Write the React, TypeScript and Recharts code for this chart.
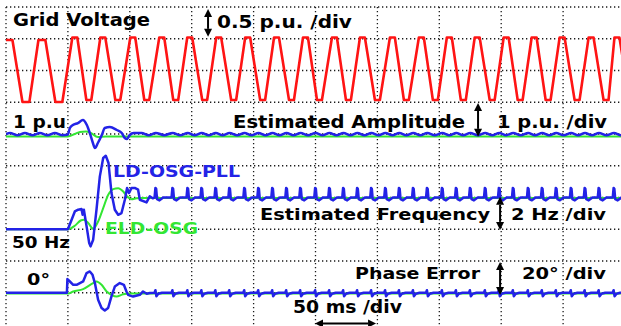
import React from 'react';
import { LineChart, Line, XAxis, YAxis, CartesianGrid, ReferenceDot, ReferenceLine } from 'recharts';

// ---- time base: ms, 50 ms / div, 10 divs ----
const STEP_MS = 50;
const xTicks = [0, 50, 100, 150, 200, 250, 300, 350, 400, 450, 500];
const yTicks = [0, 1, 2, 3, 4, 5, 6, 7, 8, 9, 10];

// ---- grid voltage (p.u.), extremum instants ----
const voltPeakMs = [2.4, 29.0, 55.6, 78.2, 102.4, 125.8, 148.4, 171.8, 195.2, 218.5, 241.9, 265.3, 287.9, 312.1, 335.5, 358.1, 380.6, 404.0, 426.6, 449.2, 472.6, 493.5];
const voltTroughMs = [16.1, 42.7, 66.9, 90.3, 113.7, 137.1, 160.5, 183.9, 207.3, 230.6, 253.2, 276.6, 300.0, 323.4, 346.8, 369.4, 392.7, 415.3, 437.9, 461.3, 484.7, 505.6];
const voltLevelsPre = { high: 0.96, low: -0.99, flat: 2.8 };
const voltLevelsPost = { high: 1.04, low: -0.93, flat: 2.0 };

// ---- double-frequency ripple / spike instants (ms) ----
const rippleMs = [121.0, 134.7, 146.8, 158.1, 169.4, 180.6, 192.7, 204.0, 215.3, 226.6, 237.9, 250.0, 261.3, 272.6, 283.9, 295.2, 306.5, 317.7, 329.0, 340.3, 352.4, 363.7, 375.0, 387.1, 398.4, 409.7, 421.8, 433.1, 444.4, 456.5, 467.7, 479.0, 491.1, 502.4];
const ampPreCrestMs = [3.2, 15.3, 27.4, 39.5];

// ---- estimated amplitude (p.u.) ----
const ampBlueTransient: [number, number][] = [[50.0, 0.984], [51.6, 1.189], [54.0, 1.283], [58.1, 1.346], [62.1, 1.441], [65.3, 1.283], [67.7, 1.031], [70.2, 0.717], [71.8, 0.559], [74.2, 0.717], [77.4, 0.969], [79.8, 1.189], [83.9, 1.220], [89.5, 1.126], [93.5, 1.031], [96.0, 0.874], [97.6, 0.843], [100.0, 0.969], [103.2, 1.031], [109.5, 1.035]];
const ampBlueCrest = 1.035;
const ampBlueValley = 0.963;
const ampGreen: [number, number][] = [[0, 0.925], [50, 0.925], [55.6, 1.0], [59.7, 1.063], [64.5, 1.079], [68.5, 1.031], [74.2, 0.906], [80.6, 0.925], [500, 0.925]];

// ---- estimated frequency (Hz) ----
const freqBlueTransient: [number, number][] = [[0, 50.0], [50.0, 50.0], [53.0, 50.60], [55.6, 51.12], [58.3, 51.23], [61.0, 51.27], [61.9, 50.91], [62.9, 51.23], [65.1, 50.18], [67.2, 49.13], [68.3, 48.92], [70.4, 49.34], [73.1, 51.23], [75.8, 53.33], [78.5, 54.49], [80.6, 54.63], [82.8, 54.17], [85.2, 52.28], [87.9, 51.23], [90.6, 50.91], [93.3, 51.02], [96.0, 51.86], [97.8, 52.60], [99.4, 52.28], [101.4, 52.60], [104.0, 52.60], [106.7, 52.49], [108.1, 51.86], [113.5, 51.69], [116.1, 52.07], [118.5, 51.95]];
const freqSteady = 52.0;
const freqSpike: [number, number][] = [[-1.0, 0], [-0.3, 0.6], [0.3, 0.55], [1.0, -0.1], [3.0, -0.18], [6.0, 0]];
const freqGreen: [number, number][] = [[0, 50.0], [50.0, 50.0], [55.6, 50.22], [60.3, 50.55], [62.9, 50.60], [66.4, 50.39], [70.4, 50.03], [74.4, 50.49], [78.5, 51.33], [82.6, 52.17], [86.6, 52.53], [90.6, 52.59], [94.7, 52.38], [97.9, 52.06], [101.4, 51.89], [105.4, 51.95], [109.7, 51.97], [500, 51.97]];

// ---- phase error (deg) ----
const phaseBlueTransient: [number, number][] = [[0, 0], [49.2, 0], [49.6, 8.6], [51.6, 7.1], [54.3, 5.0], [57.0, 5.0], [59.7, 6.1], [62.3, 7.1], [65.1, 12.4], [67.7, 13.4], [69.9, 11.3], [71.8, 6.1], [74.4, -4.4], [77.2, -9.6], [79.8, -11.2], [82.5, -9.6], [85.2, -2.3], [87.9, 3.9], [91.9, 6.1], [95.2, 5.0], [97.3, 0.8], [98.6, -1.3], [102.7, -2.4], [108.1, -1.3], [110.7, 0.8], [113.7, -0.6], [116.1, -0.2]];
const phaseTick: [number, number][] = [[-1.0, 0], [-0.3, 1.6], [0.5, -2.2], [2.0, -0.6], [5.0, 0]];
const phaseGreen: [number, number][] = [[0, -0.4], [50.3, -0.4], [54.3, 0.8], [62.3, 2.3], [70.4, 6.1], [73.1, 7.1], [77.2, 5.0], [81.3, 0.8], [85.2, -1.3], [89.3, -2.4], [94.7, -0.9], [100.0, -0.5], [500, -0.5]];

// ---- screen placement of each trace (div offset, units per div) ----
const toVolt = (u: number) => 8 + u / 1;
const toAmp = (a: number) => 5 + a / 1;
const toFreq = (f: number) => 3 + (f - 50) / 2;
const toPhase = (d: number) => 1 + d / 20;

// ---- build tables ----
const voltExtrema = [
  ...voltPeakMs.map((t) => ({ t, peak: true })),
  ...voltTroughMs.map((t) => ({ t, peak: false })),
].sort((a, b) => a.t - b.t);
const voltRows = voltExtrema.flatMap(({ t, peak }) => {
  const lv = t < STEP_MS ? voltLevelsPre : voltLevelsPost;
  const u = peak ? lv.high : lv.low;
  return [{ t: t - lv.flat, v: toVolt(u) }, { t: t + lv.flat, v: toVolt(u) }];
});

const ampBlueRows: { t: number; v: number }[] = [{ t: 0, v: toAmp(1.0) }];
ampPreCrestMs.forEach((c, i) => {
  ampBlueRows.push({ t: c, v: toAmp(ampBlueCrest) });
  const next = i + 1 < ampPreCrestMs.length ? ampPreCrestMs[i + 1] : c + 12.1;
  ampBlueRows.push({ t: (c + next) / 2, v: toAmp(ampBlueValley) });
});
ampBlueTransient.forEach(([t, a]) => ampBlueRows.push({ t, v: toAmp(a) }));
rippleMs.forEach((c, i) => {
  const prev = i === 0 ? 109.5 : rippleMs[i - 1];
  ampBlueRows.push({ t: (prev + c) / 2, v: toAmp(ampBlueValley) });
  ampBlueRows.push({ t: c, v: toAmp(ampBlueCrest) });
});
const ampGreenRows = ampGreen.map(([t, a]) => ({ t, v: toAmp(a) }));

const freqBlueRows = freqBlueTransient.map(([t, f]) => ({ t, v: toFreq(f) }));
rippleMs.forEach((s) => freqSpike.forEach(([dt, df]) => freqBlueRows.push({ t: s + dt, v: toFreq(freqSteady + df) })));
const freqGreenRows = freqGreen.map(([t, f]) => ({ t, v: toFreq(f) }));

const phaseBlueRows = phaseBlueTransient.map(([t, d]) => ({ t, v: toPhase(d) }));
rippleMs.forEach((s) => phaseTick.forEach(([dt, dd]) => phaseBlueRows.push({ t: s + dt, v: toPhase(dd) })));
const phaseGreenRows = phaseGreen.map(([t, d]) => ({ t, v: toPhase(d) }));

// ---- annotations (data coordinates: ms, div) ----
const RED = '#ff1414';
const BLUE = '#2323e6';
const GREEN = '#33e633';
const BLACK = '#000';

const labels = [
  { text: 'Grid Voltage', t: 5.7, v: 9.40, color: BLACK, size: 17.5, width: 137 },
  { text: '0.5 p.u. /div', t: 170.4, v: 9.35, color: BLACK, size: 17, width: 135 },
  { text: '1 p.u', t: 5.7, v: 6.20, color: BLACK, size: 17, width: 53 },
  { text: 'Estimated Amplitude', t: 183.4, v: 6.20, color: BLACK, size: 17.5, width: 232 },
  { text: '1 p.u. /div', t: 396.6, v: 6.20, color: BLACK, size: 17.5, width: 110 },
  { text: 'LD-OSG-PLL', t: 86.4, v: 4.65, color: BLUE, size: 15.5, width: 127 },
  { text: 'ELD-OSG', t: 80.0, v: 2.85, color: GREEN, size: 16.5, width: 93 },
  { text: '50 Hz', t: 4.8, v: 2.41, color: BLACK, size: 15.5, width: 58 },
  { text: 'Estimated Frequency', t: 205.2, v: 3.29, color: BLACK, size: 16, width: 230 },
  { text: '2 Hz /div', t: 407.9, v: 3.29, color: BLACK, size: 16, width: 95 },
  { text: '0°', t: 17.0, v: 1.24, color: BLACK, size: 15.5, width: 23 },
  { text: 'Phase Error', t: 281.9, v: 1.43, color: BLACK, size: 16, width: 125 },
  { text: '20° /div', t: 416.8, v: 1.43, color: BLACK, size: 16, width: 84 },
  { text: '50 ms /div', t: 231.8, v: 0.36, color: BLACK, size: 17, width: 109 },
];

const arrows = [
  { t1: 163.2, v1: 9.94, t2: 163.2, v2: 9.06 },
  { t1: 381.3, v1: 6.98, t2: 381.3, v2: 5.91 },
  { t1: 399.1, v1: 4.02, t2: 399.1, v2: 2.98 },
  { t1: 399.1, v1: 1.97, t2: 399.1, v2: 0.93 },
  { t1: 249.6, v1: 0.03, t2: 298.9, v2: 0.03 },
];

const ArrowShape = (p: any) => {
  const { x1, y1, x2, y2 } = p;
  if ([x1, y1, x2, y2].some((n) => typeof n !== 'number' || isNaN(n))) return null;
  const dx = x2 - x1;
  const dy = y2 - y1;
  const len = Math.sqrt(dx * dx + dy * dy) || 1;
  const ux = dx / len;
  const uy = dy / len;
  const hl = 8;
  const hw = 4;
  const nx = -uy;
  const ny = ux;
  const b1x = x1 + ux * hl, b1y = y1 + uy * hl;
  const b2x = x2 - ux * hl, b2y = y2 - uy * hl;
  return (
    <g>
      <line x1={b1x} y1={b1y} x2={b2x} y2={b2y} stroke={BLACK} strokeWidth={2} />
      <polygon points={`${x1},${y1} ${b1x + nx * hw},${b1y + ny * hw} ${b1x - nx * hw},${b1y - ny * hw}`} fill={BLACK} />
      <polygon points={`${x2},${y2} ${b2x + nx * hw},${b2y + ny * hw} ${b2x - nx * hw},${b2y - ny * hw}`} fill={BLACK} />
    </g>
  );
};

const makeLabel = (l: typeof labels[number]) => (props: any) => {
  const vb = props.viewBox || {};
  const x = (vb.x ?? 0) + (vb.width ?? 0) / 2;
  const y = (vb.y ?? 0) + (vb.height ?? 0) / 2;
  return (
    <text
      x={x}
      y={y}
      fill={l.color}
      fontFamily="'DejaVu Sans', Verdana, sans-serif"
      fontWeight="bold"
      fontSize={l.size}
      textLength={l.width}
      lengthAdjust="spacingAndGlyphs"
    >
      {l.text}
    </text>
  );
};

export default function App() {
  return (
    <div style={{ position: 'absolute', left: 0, top: 0, width: 621, height: 326, overflow: 'hidden', background: '#fff' }}>
      <LineChart width={640} height={326} margin={{ top: 7, right: 15, bottom: 1.5, left: 6 }}>
        <XAxis dataKey="t" type="number" domain={[0, 500]} ticks={xTicks} allowDataOverflow hide />
        <YAxis type="number" domain={[0, 10]} ticks={yTicks} allowDataOverflow hide />
        <CartesianGrid
          stroke="#1a1a1a"
          strokeWidth={1.3}
          strokeDasharray="1.3 2.7"
          horizontalValues={yTicks}
          verticalValues={xTicks}
        />
        <Line data={voltRows} dataKey="v" type="linear" stroke={RED} strokeWidth={2.6} dot={false} activeDot={false} isAnimationActive={false} strokeLinejoin="round" />
        <Line data={ampGreenRows} dataKey="v" type="monotone" stroke={GREEN} strokeWidth={2} dot={false} activeDot={false} isAnimationActive={false} />
        <Line data={ampBlueRows} dataKey="v" type="monotone" stroke={BLUE} strokeWidth={2.5} dot={false} activeDot={false} isAnimationActive={false} />
        <Line data={freqGreenRows} dataKey="v" type="monotone" stroke={GREEN} strokeWidth={2} dot={false} activeDot={false} isAnimationActive={false} />
        <Line data={freqBlueRows} dataKey="v" type="linear" stroke={BLUE} strokeWidth={2.5} dot={false} activeDot={false} isAnimationActive={false} strokeLinejoin="round" />
        <Line data={phaseGreenRows} dataKey="v" type="monotone" stroke={GREEN} strokeWidth={2} dot={false} activeDot={false} isAnimationActive={false} />
        <Line data={phaseBlueRows} dataKey="v" type="linear" stroke={BLUE} strokeWidth={2.5} dot={false} activeDot={false} isAnimationActive={false} strokeLinejoin="round" />
        {arrows.map((a, i) => (
          <ReferenceLine
            key={`ar${i}`}
            segment={[{ x: a.t1, y: a.v1 }, { x: a.t2, y: a.v2 }]}
            ifOverflow="visible"
            shape={ArrowShape}
          />
        ))}
        {labels.map((l, i) => (
          <ReferenceDot
            key={`lb${i}`}
            x={l.t}
            y={l.v}
            r={0}
            fill="none"
            stroke="none"
            ifOverflow="visible"
            label={{ content: makeLabel(l) }}
          />
        ))}
      </LineChart>
    </div>
  );
}
